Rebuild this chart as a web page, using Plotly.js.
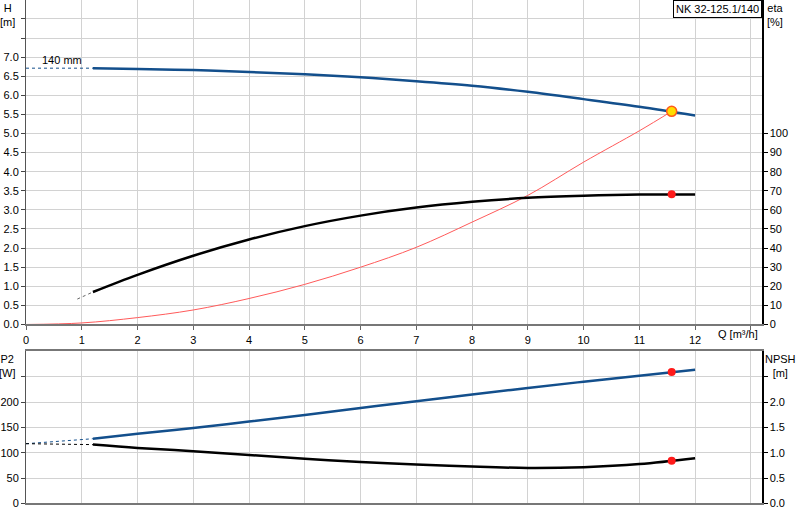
<!DOCTYPE html>
<html>
<head>
<meta charset="utf-8">
<script src="https://cdn.plot.ly/plotly-3.0.1.min.js"></script>
<style>
  html, body { margin: 0; padding: 0; background: #fff; }
  #chart { width: 800px; height: 520px; }
</style>
</head>
<body>
<div id="chart"></div>
<script>
// values
var qCurve = [1.2, 2, 3, 4, 5, 6, 7, 8, 9, 10, 11, 12];
var headVals = [6.71, 6.69, 6.66, 6.61, 6.55, 6.47, 6.37, 6.25, 6.09, 5.90, 5.70, 5.47];
var etaVals = [17, 26, 36, 44.5, 51.5, 57, 61.2, 64.2, 66.3, 67.4, 68, 68];
var p2Vals = [127.6, 137.5, 149, 161.5, 174.5, 188.3, 201.8, 215, 227.8, 240.3, 252.2, 264];
var npshVals = [1.16, 1.095, 1.03, 0.955, 0.88, 0.815, 0.765, 0.725, 0.70, 0.715, 0.775, 0.89];

// dotted extensions towards Q = 0
var qHeadExt = [0, 1.2];
var headExt = [6.71, 6.71];
var qEtaExt = [0.92, 1.2];
var etaExt = [13.3, 17];
var qLowExt = [0, 1.2];
var p2Ext = [117.8, 127.6];
var npshExt = [1.178, 1.16];

// system curve
var qSys = [0, 1, 2, 3, 4, 5, 6, 7, 8, 9, 10, 11, 11.58];
var sysVals = [0, 0.04, 0.18, 0.38, 0.68, 1.05, 1.50, 2.02, 2.68, 3.38, 4.25, 5.07, 5.58];

// duty point
var qDuty = [11.58];
var headDuty = [5.58];
var etaDuty = [68.2];
var p2Duty = [259.5];
var npshDuty = [0.842];

var xTicks = [0, 1, 2, 3, 4, 5, 6, 7, 8, 9, 10, 11, 12, 13];
var xLabels = ['0', '1', '2', '3', '4', '5', '6', '7', '8', '9', '10', '11', '12', ''];
var hTicks = [0, 0.5, 1, 1.5, 2, 2.5, 3, 3.5, 4, 4.5, 5, 5.5, 6, 6.5, 7, 7.5, 8];
var hLabels = ['0.0', '0.5', '1.0', '1.5', '2.0', '2.5', '3.0', '3.5', '4.0', '4.5', '5.0', '5.5', '6.0', '6.5', '7.0', '', ''];
var etaTicks = [0, 10, 20, 30, 40, 50, 60, 70, 80, 90, 100];
var p2Ticks = [0, 50, 100, 150, 200, 250];
var p2Labels = ['0', '50', '100', '150', '200', ''];
var npshTicks = [0, 0.5, 1, 1.5, 2, 2.5];
var npshLabels = ['0.0', '0.5', '1.0', '1.5', '2.0', ''];

var blue = '#134f8c';
var font = {family: 'Liberation Sans, Arial, sans-serif', size: 11, color: '#000'};

var data = [
  {x: qHeadExt, y: headExt, xaxis: 'x', yaxis: 'y', mode: 'lines', line: {color: blue, width: 1, dash: 'dot'}},
  {x: qSys, y: sysVals, xaxis: 'x', yaxis: 'y', mode: 'lines', line: {color: '#ff5a5a', width: 1, shape: 'spline'}},
  {x: qCurve, y: headVals, xaxis: 'x', yaxis: 'y', mode: 'lines', line: {color: blue, width: 2.5, shape: 'spline'}},
  {x: qEtaExt, y: etaExt, xaxis: 'x', yaxis: 'y2', mode: 'lines', line: {color: '#666', width: 1, dash: 'dot'}},
  {x: qCurve, y: etaVals, xaxis: 'x', yaxis: 'y2', mode: 'lines', line: {color: '#000', width: 2.5, shape: 'spline'}},
  {x: qDuty, y: etaDuty, xaxis: 'x', yaxis: 'y2', mode: 'markers', marker: {color: '#ff1a1a', size: 8}},
  {x: qDuty, y: headDuty, xaxis: 'x', yaxis: 'y', mode: 'markers', marker: {color: '#ffdd00', size: 10, line: {color: '#ff5a1a', width: 1.5}}},
  {x: qLowExt, y: p2Ext, xaxis: 'x2', yaxis: 'y3', mode: 'lines', line: {color: blue, width: 1, dash: 'dot'}},
  {x: qCurve, y: p2Vals, xaxis: 'x2', yaxis: 'y3', mode: 'lines', line: {color: blue, width: 2.5, shape: 'spline'}},
  {x: qLowExt, y: npshExt, xaxis: 'x2', yaxis: 'y4', mode: 'lines', line: {color: '#000', width: 1, dash: 'dot'}},
  {x: qCurve, y: npshVals, xaxis: 'x2', yaxis: 'y4', mode: 'lines', line: {color: '#000', width: 2.5, shape: 'spline'}},
  {x: qDuty, y: p2Duty, xaxis: 'x2', yaxis: 'y3', mode: 'markers', marker: {color: '#ff1a1a', size: 8}},
  {x: qDuty, y: npshDuty, xaxis: 'x2', yaxis: 'y4', mode: 'markers', marker: {color: '#ff1a1a', size: 8}}
];

var gridCol = '#d2d2d2';
var layout = {
  width: 800,
  height: 520,
  margin: {l: 26, r: 38, t: 0, b: 0},
  showlegend: false,
  paper_bgcolor: '#fff',
  plot_bgcolor: '#fff',
  font: font,
  xaxis: {
    domain: [0, 1], range: [0, 13.2], anchor: 'y',
    tickvals: xTicks, ticktext: xLabels, ticks: 'outside', ticklen: 4, tickcolor: '#666',
    showgrid: true, gridcolor: gridCol, showline: true, linecolor: '#777', linewidth: 2,
    zeroline: false, fixedrange: true
  },
  yaxis: {
    domain: [0.376, 1], range: [0, 8.495], anchor: 'x',
    tickvals: hTicks, ticktext: hLabels, ticks: 'outside', ticklen: 4, tickcolor: '#444',
    showgrid: true, gridcolor: gridCol, showline: true, linecolor: '#555', linewidth: 1,
    zeroline: false
  },
  yaxis2: {
    overlaying: 'y', side: 'right', anchor: 'x', range: [0, 169.9],
    tickvals: etaTicks, ticks: 'outside', ticklen: 4, tickcolor: '#000',
    showgrid: false, showline: true, linecolor: '#000', linewidth: 1.5, zeroline: false
  },
  xaxis2: {
    domain: [0, 1], range: [0, 13.2], anchor: 'y3',
    tickvals: xTicks, showticklabels: false, ticks: '',
    showgrid: true, gridcolor: gridCol, showline: true, mirror: true, linecolor: '#777', linewidth: 1.5,
    zeroline: false
  },
  yaxis3: {
    domain: [0.0321, 0.3256], range: [0, 301.6], anchor: 'x2',
    tickvals: p2Ticks, ticktext: p2Labels, ticks: 'outside', ticklen: 4, tickcolor: '#444',
    showgrid: true, gridcolor: gridCol, showline: true, linecolor: '#555', linewidth: 1,
    zeroline: false
  },
  yaxis4: {
    overlaying: 'y3', side: 'right', anchor: 'x2', range: [0, 3.016],
    tickvals: npshTicks, ticktext: npshLabels, ticks: 'outside', ticklen: 4, tickcolor: '#000',
    showgrid: false, showline: true, linecolor: '#000', linewidth: 1.5, zeroline: false
  },
  annotations: [
    {xref: 'paper', yref: 'paper', x: -0.0245, y: 1, xanchor: 'center', yanchor: 'top', showarrow: false, align: 'center', text: 'H<br>[m]'},
    {xref: 'paper', yref: 'paper', x: 1.018, y: 1, xanchor: 'center', yanchor: 'top', showarrow: false, align: 'center', text: 'eta<br>[%]'},
    {xref: 'paper', yref: 'paper', x: -0.0245, y: 0.325, xanchor: 'center', yanchor: 'top', showarrow: false, align: 'center', text: 'P2<br>[W]'},
    {xref: 'paper', yref: 'paper', x: 1.025, y: 0.325, xanchor: 'center', yanchor: 'top', showarrow: false, align: 'center', text: 'NPSH<br>[m]'},
    {xref: 'x', yref: 'paper', x: 12.77, y: 0.376, xanchor: 'center', yanchor: 'top', yshift: -2, showarrow: false, text: 'Q [m\u00b3/h]'},
    {xref: 'x', yref: 'y', x: 0.64, y: 6.93, xanchor: 'center', yanchor: 'middle', showarrow: false, text: '140 mm'},
    {xref: 'paper', yref: 'paper', x: 0.9395, y: 1, xanchor: 'center', yanchor: 'top', showarrow: false,
     text: 'NK 32-125.1/140', bordercolor: '#000', borderwidth: 1, borderpad: 2, bgcolor: '#fff'}
  ]
};

Plotly.newPlot('chart', data, layout, {displayModeBar: false, staticPlot: true});
</script>
</body>
</html>
